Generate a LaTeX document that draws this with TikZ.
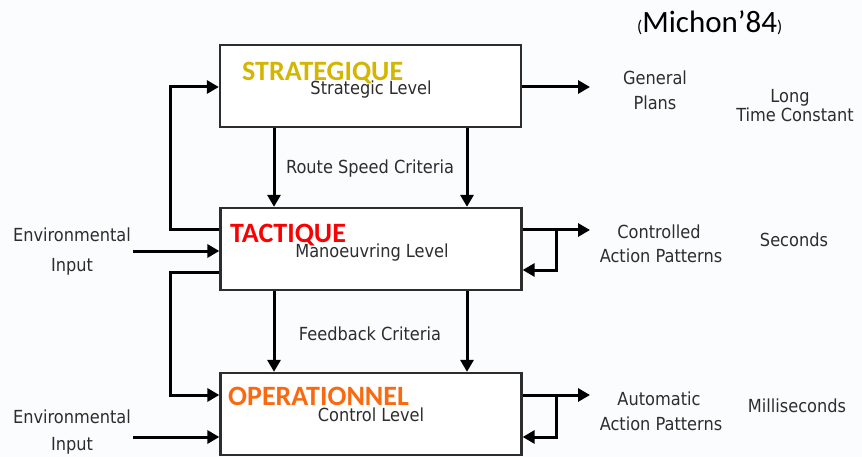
\documentclass[tikz,border=0pt]{standalone}
\usepackage{fontspec}
\setmainfont{DejaVu Sans Condensed}
\newfontfamily\calib{Carlito}
\usetikzlibrary{arrows.meta}
\definecolor{bg}{RGB}{251,252,253}
\definecolor{ink}{RGB}{45,45,45}
\definecolor{stratcol}{RGB}{212,182,0}
\definecolor{tactcol}{RGB}{250,0,0}
\definecolor{opcol}{RGB}{250,105,15}
\tikzset{
  levelbox/.style={draw=ink, line width=2.3pt, fill=white, minimum width=301pt, minimum height=82pt, inner sep=0pt},
  flow/.style={line width=3pt, draw=black, -{Triangle[length=12pt,width=13pt]}},
  lbl/.style={text=ink, font=\fontsize{18}{20}\selectfont, inner sep=0pt, anchor=base},
  frlbl/.style={font=\calib\bfseries\fontsize{28}{30}\selectfont, inner sep=0pt, anchor=base west}
}
\begin{document}
\begin{tikzpicture}[x=1pt,y=-1pt]
\fill[bg] (0,0) rectangle (862,457);
\useasboundingbox (0,0) rectangle (862,457);

% the three levels
\node[levelbox] (S) at (370.5,86) {};
\node[levelbox] (T) at (371,249) {};
\node[levelbox] (C) at (371,414) {};

\node[lbl] (sl) at (371,95) {Strategic Level};
\node[lbl] (tl) at (372,258) {Manoeuvring Level};
\node[lbl] (cl) at (371,421) {Control Level};

% column and row positions
\coordinate (xa) at (274,0);
\coordinate (xb) at (467,0);
\coordinate (xl) at (170,0);
\coordinate (xe) at (133,0);
\coordinate (xo) at (590,0);
\coordinate (xf) at (556,0);
\coordinate (ys) at (0,87);
\coordinate (yt1) at (0,230);
\coordinate (yt2) at (0,251);
\coordinate (yt3) at (0,272);
\coordinate (yc1) at (0,395);
\coordinate (yc2) at (0,437);
\coordinate (yto) at (0,230);
\coordinate (ytf) at (0,270);
\coordinate (yco) at (0,395);
\coordinate (ycf) at (0,437);

% downward criteria arrows
\draw[flow] (S.south -| xa) -- (T.north -| xa);
\draw[flow] (S.south -| xb) -- (T.north -| xb);
\draw[flow] (T.south -| xa) -- (C.north -| xa);
\draw[flow] (T.south -| xb) -- (C.north -| xb);
\node[lbl] (rsc) at (370,174) {Route Speed Criteria};
\node[lbl] (fbc) at (370,340) {Feedback Criteria};

% feedback loops on the left
\draw[flow] (T.west |- yt1) -- (xl |- yt1) -- (xl |- ys) -- (S.west |- ys);
\draw[flow] (T.west |- yt3) -- (xl |- yt3) -- (xl |- yc1) -- (C.west |- yc1);

% environmental inputs
\node[lbl] (e1a) at (72,241) {Environmental};
\node[lbl] (e1b) at (72,271) {Input};
\node[lbl] (e2a) at (72,423) {Environmental};
\node[lbl] (e2b) at (72,450) {Input};
\draw[flow] (xe |- yt2) -- (T.west |- yt2);
\draw[flow] (xe |- yc2) -- (C.west |- yc2);

% outputs on the right
\draw[flow] (S.east |- ys) -- (xo |- ys);
\draw[flow] (T.east |- yto) -- (xo |- yto);
\draw[flow] (xf |- yto) -- (xf |- ytf) -- (T.east |- ytf);
\draw[flow] (C.east |- yco) -- (xo |- yco);
\draw[flow] (xf |- yco) -- (xf |- ycf) -- (C.east |- ycf);

\node[lbl] (o1a) at (655,85) {General};
\node[lbl] (o1b) at (655,110) {Plans};
\node[lbl] (o2a) at (659,239) {Controlled};
\node[lbl] (o2b) at (661,262) {Action Patterns};
\node[lbl] (o3a) at (659,405) {Automatic};
\node[lbl] (o3b) at (661,430) {Action Patterns};
\node[lbl] (t1a) at (790,103) {Long};
\node[lbl] (t1b) at (795,122) {Time Constant};
\node[lbl] (t2) at (794,247) {Seconds};
\node[lbl] (t3) at (797,412) {Milliseconds};

% French level names
\node[frlbl, text=stratcol] (fs) at (242,81) {STRATEGIQUE};
\node[frlbl, text=tactcol] (ft) at (230,243) {TACTIQUE};
\node[frlbl, text=opcol] (fo) at (228,405) {OPERATIONNEL};

% reference
\node[inner sep=0pt, anchor=base west] (ref) at (637,33) {\calib{\fontsize{17}{18}\selectfont(}\fontsize{31}{34}\selectfont Michon’84{\fontsize{17}{18}\selectfont)}};
\end{tikzpicture}
\end{document}
